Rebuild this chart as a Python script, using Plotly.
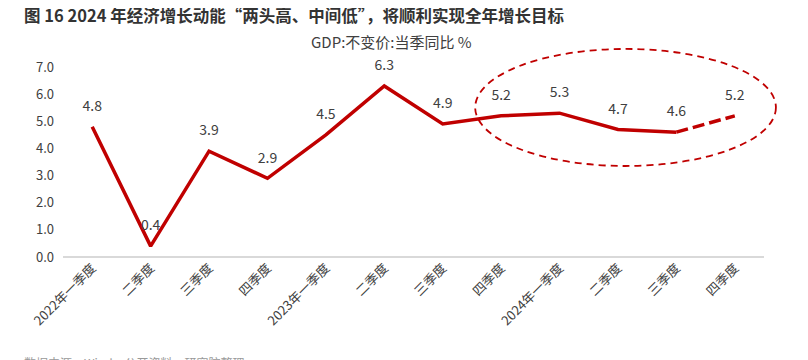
import plotly.graph_objects as go

categories = ["2022年一季度", "二季度", "三季度", "四季度",
              "2023年一季度", "二季度", "三季度", "四季度",
              "2024年一季度", "二季度", "三季度", "四季度"]
gdp_yoy = [4.8, 0.4, 3.9, 2.9, 4.5, 6.3, 4.9, 5.2, 5.3, 4.7, 4.6, 5.2]
y_ticks = [0, 1, 2, 3, 4, 5, 6, 7]

idx = list(range(len(categories)))
n_actual = 11  # last point is target (dashed)

RED = "#C00000"
GRAY = "#404040"
FONT = "Noto Sans CJK SC"

fig = go.Figure()
fig.add_trace(go.Scatter(
    x=idx[:n_actual], y=gdp_yoy[:n_actual], mode="lines",
    line=dict(color=RED, width=3.5), hoverinfo="skip", showlegend=False))
fig.add_trace(go.Scatter(
    x=idx[n_actual - 1:], y=gdp_yoy[n_actual - 1:], mode="lines",
    line=dict(color=RED, width=3.5, dash="12px,5px"), hoverinfo="skip", showlegend=False))
fig.add_trace(go.Scatter(
    x=idx, y=gdp_yoy, mode="markers+text", text=[f"{v:.1f}" for v in gdp_yoy],
    marker=dict(size=18, opacity=0),
    textposition="top center", textfont=dict(family=FONT, size=14, color=GRAY),
    cliponaxis=False, showlegend=False, hoverinfo="skip"))

fig.add_shape(type="circle", xref="paper", yref="paper",
              x0=0.588, x1=1.017, y0=0.479, y1=1.095,
              line=dict(color=RED, width=1.8, dash="7px,5px"), layer="above")

fig.update_layout(
    width=800, height=352,
    margin=dict(l=55, r=44, t=59, b=103),
    plot_bgcolor="white", paper_bgcolor="white",
    font=dict(family=FONT, color=GRAY),
    xaxis=dict(range=[-0.5, len(categories) - 0.5], tickvals=idx, ticktext=categories,
               tickangle=-45, tickfont=dict(family=FONT, size=13, color=GRAY),
               showgrid=False, zeroline=False, showline=False, ticks=""),
    yaxis=dict(range=[0, 7], tickvals=y_ticks, ticktext=[f"{v:.1f}" for v in y_ticks],
               tickfont=dict(family=FONT, size=13, color=GRAY),
               showgrid=False, zeroline=True, zerolinecolor="#D9D9D9", zerolinewidth=1.5,
               showline=False, ticks="", ticklabelstandoff=8),
    annotations=[
        dict(text="<b>图 16 2024 年经济增长动能“两头高、中间低”，将顺利实现全年增长目标</b>",
             xref="paper", yref="paper", x=-0.0585, y=1.0, yshift=52,
             xanchor="left", yanchor="middle", showarrow=False,
             font=dict(family=FONT, size=16.5, color="#333333")),
        dict(text="GDP:不变价:当季同比 %", xref="paper", yref="paper",
             x=0.469, y=1.0, yshift=26, xanchor="center", yanchor="middle",
             showarrow=False, font=dict(family=FONT, size=15, color=GRAY)),
        dict(text="数据来源：Wind，公开资料，研究院整理", xref="paper", yref="paper",
             x=-0.0585, y=0, yshift=-95, xanchor="left", yanchor="top",
             showarrow=False, font=dict(family=FONT, size=12, color="#999999")),
    ],
)

fig.write_html("out.html")
